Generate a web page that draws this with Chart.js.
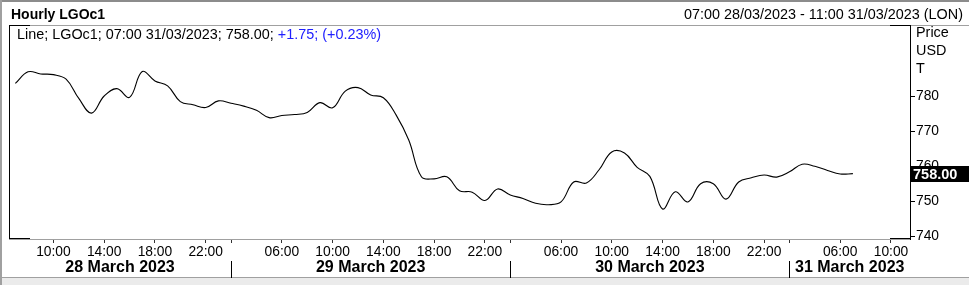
<!DOCTYPE html>
<html>
<head>
<meta charset="utf-8">
<title>Hourly LGOc1</title>
<script src="https://cdn.jsdelivr.net/npm/chart.js@4.4.0/dist/chart.umd.min.js"></script>
<style>
  html, body { margin: 0; padding: 0; background: #fff; }
  #wrap { width: 969px; height: 285px; }
</style>
</head>
<body>
<div id="wrap"><canvas id="lgoChart" width="969" height="285"></canvas></div>
<script>
// sessions: first day starts at 07:00, market closed 23:00-01:00, last day ends 11:00
const days = ["28/03", "29/03", "30/03", "31/03"];
const dayTitles = ["28 March 2023", "29 March 2023", "30 March 2023", "31 March 2023"];
const firstDayHours = ["07:00", "08:00", "09:00", "10:00", "11:00", "12:00", "13:00", "14:00",
  "15:00", "16:00", "17:00", "18:00", "19:00", "20:00", "21:00", "22:00"];
const sessionHours = ["01:00", "02:00", "03:00", "04:00", "05:00", "06:00", "07:00", "08:00",
  "09:00", "10:00", "11:00", "12:00", "13:00", "14:00", "15:00", "16:00", "17:00", "18:00",
  "19:00", "20:00", "21:00", "22:00"];
const lastDayHours = ["01:00", "02:00", "03:00", "04:00", "05:00", "06:00", "07:00", "08:00",
  "09:00", "10:00", "11:00"];
const tickHours = ["06:00", "10:00", "14:00", "18:00", "22:00"];
const dayBreakHour = "02:00";

// hourly closes, 07:00 28/03 -> 07:00 31/03
const prices = [
  783.8, 787.1, 786.5, 786.3, 785.0, 779.5, 775.3, 780.2, 782.3, 779.8, 787.2, 784.5, 783.1, 778.6, 777.7, 776.9,
  778.8, 778.1, 777.3, 776.1, 774.0, 774.6, 774.9, 775.5, 778.3, 776.8, 781.6, 782.6, 780.5, 779.7, 774.8, 767.6,
  757.1, 756.5, 757.1, 753.1, 752.7, 750.3, 753.6, 751.9, 750.9, 749.5, 749.1, 749.9, 755.6, 755.3, 759.1, 764.2,
  763.9, 759.8, 757.2, 747.9, 752.8, 749.9, 755.1, 755.1, 750.7, 755.6, 756.8, 757.6, 757.0, 758.5, 760.7, 760.1,
  758.9, 757.9, 758.0
];
const yTicks = [740, 750, 760, 770, 780];
const yUnits = ["Price", "USD", "T"];

const FONT = '"Liberation Sans", Arial, sans-serif';

const categories = [];
days.forEach((d, i) => {
  const hrs = i === 0 ? firstDayHours : (i === days.length - 1 ? lastDayHours : sessionHours);
  hrs.forEach(h => categories.push(d + " " + h));
});
const hourOf = i => (categories[i] || "").slice(6);

/* =========================
   DECORATIONS (frame, header, date row)
========================= */
const decorations = {
  id: "decorations",
  beforeDraw(chart) {
    const ctx = chart.ctx;
    const W = chart.width, H = chart.height;
    ctx.save();
    ctx.fillStyle = "#fff";
    ctx.fillRect(0, 0, W, H);
    // bottom strip
    ctx.fillStyle = "#ebebeb";
    ctx.fillRect(0, 277, W, H - 277);
    ctx.fillStyle = "#a0a0a0";
    ctx.fillRect(0, 277, W, 1);
    // outer frame
    ctx.fillStyle = "#8c8c8c";
    ctx.fillRect(0, 0, W, 2);
    ctx.fillStyle = "#a0a0a0";
    ctx.fillRect(0, 0, 2, H);
    ctx.restore();
  },
  afterDraw(chart) {
    const ctx = chart.ctx;
    const area = chart.chartArea;
    const x = chart.scales.x;
    const y = chart.scales.y;
    ctx.save();

    // top line of plot box + black corners
    ctx.fillStyle = "#a0a0a0";
    ctx.fillRect(area.left, area.top, chart.width - area.left, 1);
    ctx.fillStyle = "#000";
    ctx.fillRect(area.left, area.top, 21, 1);
    ctx.fillRect(area.right - 20, area.top, 21, 1);
    ctx.fillRect(area.left, area.bottom - 1, 21, 1);
    ctx.fillRect(area.right - 20, area.bottom - 1, 21, 1);
    ctx.fillRect(area.left, area.top, 1, area.bottom - area.top);

    // header
    ctx.textBaseline = "middle";
    ctx.fillStyle = "#000";
    ctx.font = "bold 14px " + FONT;
    ctx.textAlign = "left";
    ctx.fillText("Hourly LGOc1", 11, 15);
    ctx.font = "14.4px " + FONT;
    ctx.textAlign = "right";
    ctx.fillText("07:00 28/03/2023 - 11:00 31/03/2023 (LON)", 963, 15);

    // legend line
    ctx.textAlign = "left";
    const part1 = "Line; LGOc1; 07:00 31/03/2023; 758.00; ";
    ctx.fillText(part1, 17, 35);
    ctx.fillStyle = "#2020ff";
    ctx.fillText("+1.75; (+0.23%)", 17 + ctx.measureText(part1).width, 35);

    // unit label over the price axis
    ctx.fillStyle = "#000";
    yUnits.forEach((t, i) => ctx.fillText(t, area.right + 6, 33 + i * 18));

    // last price marker
    const last = prices[prices.length - 1];
    const py = Math.round(y.getPixelForValue(last));
    ctx.fillRect(area.right + 1, py - 8, chart.width - area.right - 1, 16);
    ctx.fillStyle = "#fff";
    ctx.font = "bold 14.5px " + FONT;
    ctx.fillText(last.toFixed(2), area.right + 3, py + 0.5);

    // day separators and date labels
    const bounds = [area.left];
    categories.forEach((c, i) => {
      if (hourOf(i) === dayBreakHour) bounds.push(x.getPixelForValue(i));
    });
    bounds.push(area.right);
    ctx.fillStyle = "#000";
    bounds.slice(1, -1).forEach(bx => ctx.fillRect(Math.round(bx), 261, 1, 17));
    ctx.font = "bold 16px " + FONT;
    ctx.textAlign = "center";
    dayTitles.forEach((t, i) => {
      ctx.fillText(t, (bounds[i] + bounds[i + 1]) / 2, 268);
    });
    ctx.restore();
  }
};

/* =========================
   CHART
========================= */
function initChart() {
  const el = document.getElementById("lgoChart");
  if (!el) return;

  Chart.defaults.font.family = FONT;
  Chart.defaults.color = "#000";

  new Chart(el, {
    type: "line",
    data: {
      labels: categories,
      datasets: [{
        label: "LGOc1",
        data: prices,
        borderColor: "#000",
        borderWidth: 1.1,
        pointRadius: 0,
        tension: 0.4,
        fill: false
      }]
    },
    options: {
      responsive: false,
      animation: false,
      events: [],
      layout: { padding: { left: 9, top: 25, right: 0, bottom: 0 } },
      plugins: { legend: { display: false }, tooltip: { enabled: false } },
      scales: {
        x: {
          type: "category",
          offset: true,
          afterFit: s => { s.height = 46; },
          border: { display: true, color: "#a0a0a0" },
          grid: {
            drawOnChartArea: false,
            tickLength: 4,
            color: c => (tickHours.includes(hourOf(c.index)) || hourOf(c.index) === dayBreakHour) ? "#333" : "rgba(0,0,0,0)"
          },
          ticks: {
            autoSkip: false,
            maxRotation: 0,
            padding: 1,
            font: { size: 13.8 },
            callback: (v, i) => tickHours.includes(hourOf(i)) ? hourOf(i) : ""
          }
        },
        y: {
          position: "right",
          min: 739.3,
          max: 800.5,
          afterFit: s => { s.width = 59; },
          afterBuildTicks: s => { s.ticks = yTicks.map(v => ({ value: v })); },
          border: { display: true, color: "#000" },
          grid: { drawOnChartArea: false, tickLength: 5, color: "#000" },
          ticks: { padding: 1, font: { size: 13.8 } }
        }
      }
    },
    plugins: [decorations]
  });
}

document.addEventListener("DOMContentLoaded", initChart);
</script>
</body>
</html>
